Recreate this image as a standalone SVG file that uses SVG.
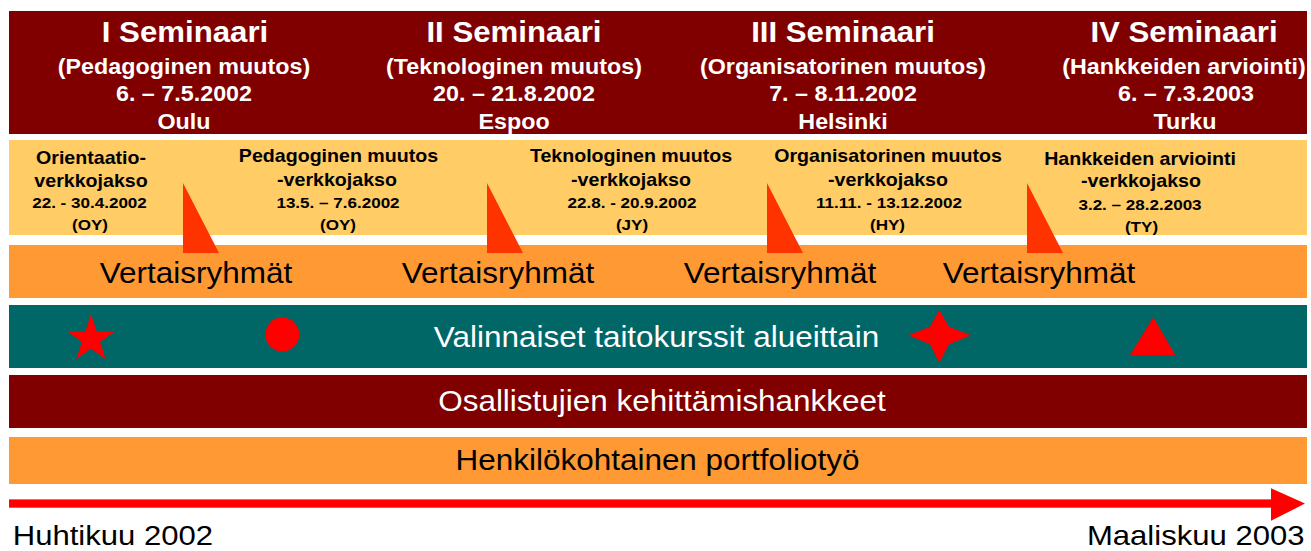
<svg xmlns="http://www.w3.org/2000/svg" width="1311" height="551" viewBox="0 0 1311 551">
<style>
text{font-family:"Liberation Sans",Arial,Helvetica,sans-serif;text-anchor:middle}
.t1{font-size:30px;font-weight:bold;fill:#fff}
.t2{font-size:22px;font-weight:bold;fill:#fff}
.c1{font-size:18px;font-weight:bold;fill:#000}
.c2{font-size:15.5px;font-weight:bold;fill:#000}
.big{font-size:29px;fill:#000}
.foot{font-size:27.5px;fill:#000}
.w{fill:#fff}
.tri{fill:#FF3300}
.sym{fill:#FF0000}
</style>
<rect width="1311" height="551" fill="#fff"/>
<g id="seminaarit">
<rect x="9" y="11" width="1298" height="123" fill="#800000"/>
<g id="sem1">
<text class="t1" transform="translate(185 41.5) scale(1.04 1)">I Seminaari</text>
<text class="t2" transform="translate(184 73.5) scale(1.06 1)">(Pedagoginen muutos)</text>
<text class="t2" transform="translate(184 100.7) scale(1.06 1)">6. – 7.5.2002</text>
<text class="t2" transform="translate(184 129) scale(1.06 1)">Oulu</text>
</g>
<g id="sem2">
<text class="t1" transform="translate(514 41.5) scale(1.04 1)">II Seminaari</text>
<text class="t2" transform="translate(514 73.5) scale(1.06 1)">(Teknologinen muutos)</text>
<text class="t2" transform="translate(514 100.7) scale(1.06 1)">20. – 21.8.2002</text>
<text class="t2" transform="translate(514 129) scale(1.06 1)">Espoo</text>
</g>
<g id="sem3">
<text class="t1" transform="translate(843 41.5) scale(1.04 1)">III Seminaari</text>
<text class="t2" transform="translate(843 73.5) scale(1.06 1)">(Organisatorinen muutos)</text>
<text class="t2" transform="translate(843 100.7) scale(1.06 1)">7. – 8.11.2002</text>
<text class="t2" transform="translate(843 129) scale(1.06 1)">Helsinki</text>
</g>
<g id="sem4">
<text class="t1" transform="translate(1184 41.5) scale(1.04 1)">IV Seminaari</text>
<text class="t2" transform="translate(1184 73.5) scale(1.06 1)">(Hankkeiden arviointi)</text>
<text class="t2" transform="translate(1186 100.7) scale(1.06 1)">6. – 7.3.2003</text>
<text class="t2" transform="translate(1185 129) scale(1.06 1)">Turku</text>
</g>
</g>
<g id="verkkojaksot">
<rect x="9" y="140" width="1298" height="95" fill="#FFCC66"/>
<g id="jakso1">
<text class="c1" transform="translate(91 163.5) scale(1.09 1)">Orientaatio-</text>
<text class="c1" transform="translate(91 186.5) scale(1.09 1)">verkkojakso</text>
<text class="c2" transform="translate(89.5 208.3) scale(1.1 1)">22. - 30.4.2002</text>
<text class="c2" transform="translate(90 230) scale(1.1 1)">(OY)</text>
</g>
<g id="jakso2">
<text class="c1" transform="translate(338.5 162) scale(1.09 1)">Pedagoginen muutos</text>
<text class="c1" transform="translate(337 185.5) scale(1.09 1)">-verkkojakso</text>
<text class="c2" transform="translate(338 207.5) scale(1.1 1)">13.5. – 7.6.2002</text>
<text class="c2" transform="translate(338 229.5) scale(1.1 1)">(OY)</text>
</g>
<g id="jakso3">
<text class="c1" transform="translate(631 162) scale(1.09 1)">Teknologinen muutos</text>
<text class="c1" transform="translate(631 185.5) scale(1.09 1)">-verkkojakso</text>
<text class="c2" transform="translate(632 207.5) scale(1.1 1)">22.8. - 20.9.2002</text>
<text class="c2" transform="translate(632 229.5) scale(1.1 1)">(JY)</text>
</g>
<g id="jakso4">
<text class="c1" transform="translate(888 162) scale(1.09 1)">Organisatorinen muutos</text>
<text class="c1" transform="translate(888 185.5) scale(1.09 1)">-verkkojakso</text>
<text class="c2" transform="translate(889 207.5) scale(1.1 1)">11.11. - 13.12.2002</text>
<text class="c2" transform="translate(887.5 229.5) scale(1.1 1)">(HY)</text>
</g>
<g id="jakso5">
<text class="c1" transform="translate(1140 165) scale(1.09 1)">Hankkeiden arviointi</text>
<text class="c1" transform="translate(1141 187) scale(1.09 1)">-verkkojakso</text>
<text class="c2" transform="translate(1140 209.5) scale(1.1 1)">3.2. – 28.2.2003</text>
<text class="c2" transform="translate(1141.5 231.5) scale(1.1 1)">(TY)</text>
</g>
</g>
<g id="vertaisryhmat">
<rect x="9" y="245" width="1298" height="53" fill="#FF9933"/>
<text class="big" transform="translate(196 282.7) scale(1.085 1)">Vertaisryhmät</text>
<text class="big" transform="translate(498 282.7) scale(1.085 1)">Vertaisryhmät</text>
<text class="big" transform="translate(780 282.7) scale(1.085 1)">Vertaisryhmät</text>
<text class="big" transform="translate(1039 282.7) scale(1.085 1)">Vertaisryhmät</text>
</g>
<g id="connectors">
<polygon class="tri" points="183,183 219,253 183,253"/>
<polygon class="tri" points="487,183 523,253 487,253"/>
<polygon class="tri" points="767,183 803,253 767,253"/>
<polygon class="tri" points="1027,183 1063,253 1027,253"/>
</g>
<g id="taitokurssit">
<rect x="9" y="305" width="1298" height="63" fill="#006666"/>
<text class="big w" transform="translate(656.5 346.7) scale(1.085 1)">Valinnaiset taitokurssit alueittain</text>
<polygon class="sym" points="91,314 96.6,331.3 114.8,331.3 100.1,342 105.7,359.2 91,348.6 76.3,359.2 81.9,342 67.2,331.3 85.4,331.3"/>
<circle class="sym" cx="282.3" cy="334.5" r="17"/>
<polygon class="sym" points="939.3,310 949,326.7 971,335.3 949,344.3 939.3,362.7 930,344.3 908.3,335.3 930,326.7"/>
<polygon class="sym" points="1153.3,317.3 1175.3,355 1130,355"/>
</g>
<g id="kehittamishankkeet">
<rect x="9" y="375" width="1298" height="53" fill="#800000"/>
<text class="big w" transform="translate(662 411) scale(1.085 1)">Osallistujien kehittämishankkeet</text>
</g>
<g id="portfoliotyo">
<rect x="9" y="437" width="1298" height="47" fill="#FF9933"/>
<text class="big" transform="translate(657.5 470) scale(1.085 1)">Henkilökohtainen portfoliotyö</text>
</g>
<g id="aikajana">
<rect x="9" y="499.4" width="1263" height="8.3" fill="#FF0000"/>
<polygon fill="#FF0000" points="1271,488.3 1305,503.6 1271,520.8"/>
<text class="foot" style="text-anchor:start" transform="translate(12.7 545) scale(1.13 1)">Huhtikuu 2002</text>
<text class="foot" style="text-anchor:end" transform="translate(1304.5 545) scale(1.13 1)">Maaliskuu 2003</text>
</g>
</svg>
